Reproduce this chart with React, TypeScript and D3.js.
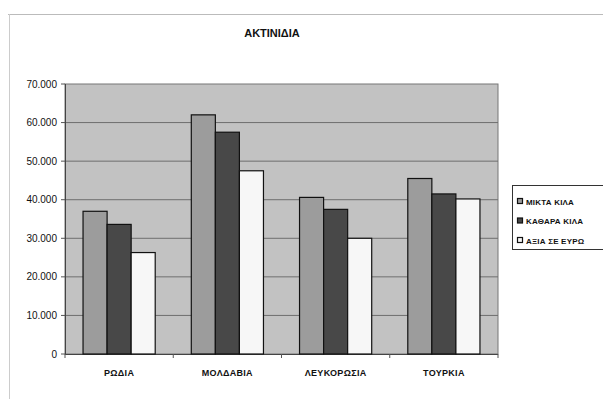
import React from "react";
import * as d3 from "d3";

const categories = ["ΡΩΔΙΑ", "ΜΟΛΔΑΒΙΑ", "ΛΕΥΚΟΡΩΣΙΑ", "ΤΟΥΡΚΙΑ"];
const seriesNames = ["ΜΙΚΤΑ ΚΙΛΑ", "ΚΑΘΑΡΑ ΚΙΛΑ", "ΑΞΙΑ ΣΕ ΕΥΡΩ"];
const miktaKila = [37000, 62000, 40600, 45500];
const katharaKila = [33600, 57500, 37500, 41500];
const axiaEuro = [26300, 47500, 30000, 40200];
const yTicks = [0, 10000, 20000, 30000, 40000, 50000, 60000, 70000];
const tickLabels = ["0", "10.000", "20.000", "30.000", "40.000", "50.000", "60.000", "70.000"];
const title = "ΑΚΤΙΝΙΔΙΑ";

const seriesValues = [miktaKila, katharaKila, axiaEuro];
const colors = ["#9c9c9c", "#484848", "#f7f7f7"];

export default function App() {
  const W = 603, H = 399;
  const left = 65, right = 498, top = 84, bottom = 354;
  const x = d3.scaleBand<string>().domain(categories).range([left, right]).paddingInner(0).paddingOuter(0);
  const y = d3.scaleLinear().domain([0, 70000]).range([bottom, top]);
  const groupW = x.bandwidth() * (2 / 3);
  const inner = d3.scaleBand<number>().domain([0, 1, 2]).range([0, groupW]);
  const font = "'Liberation Sans', Arial, sans-serif";

  return (
    <svg width={W} height={H} style={{ position: "absolute", left: 0, top: 0, background: "#fff" }}>
      <rect x={0} y={0} width={W} height={H} fill="#fff" />
      <line x1={8} y1={14.5} x2={W} y2={14.5} stroke="#bbb" strokeWidth={1} />
      <line x1={9.5} y1={14} x2={9.5} y2={H} stroke="#ccc" strokeWidth={1} />
      <text x={272} y={37} textAnchor="middle" fontFamily={font} fontSize={11} fontWeight="bold" fill="#111">
        {title}
      </text>
      <rect x={left} y={top} width={right - left} height={bottom - top} fill="#c2c2c2" stroke="#777" strokeWidth={1} />
      {yTicks.map((t, i) => (
        <g key={t}>
          {t > 0 && t < 70000 && (
            <line x1={left} x2={right} y1={y(t)} y2={y(t)} stroke="#6e6e6e" strokeWidth={1} />
          )}
          <line x1={left - 4} x2={left} y1={y(t)} y2={y(t)} stroke="#555" />
          <text x={57} y={y(t) + 3.5} textAnchor="end" fontFamily={font} fontSize={10} fill="#111">
            {tickLabels[i]}
          </text>
        </g>
      ))}
      <line x1={left} x2={right} y1={bottom + 0.5} y2={bottom + 0.5} stroke="#444" />
      <line x1={left + 0.5} x2={left + 0.5} y1={top} y2={bottom} stroke="#444" />
      {categories.map((c) => (
        <line key={"t" + c} x1={x(c) as number} x2={x(c) as number} y1={bottom} y2={bottom + 4} stroke="#555" />
      ))}
      <line x1={right} x2={right} y1={bottom} y2={bottom + 4} stroke="#555" />
      {categories.map((c, ci) => {
        const gx = (x(c) as number) + (x.bandwidth() - groupW) / 2;
        return (
          <g key={c}>
            {seriesValues.map((vals, si) => (
              <rect
                key={si}
                x={gx + (inner(si) as number)}
                y={y(vals[ci])}
                width={inner.bandwidth()}
                height={bottom - y(vals[ci])}
                fill={colors[si]}
                stroke="#111"
                strokeWidth={1.2}
              />
            ))}
            <text x={(x(c) as number) + x.bandwidth() / 2} y={376} textAnchor="middle" fontFamily={font} fontSize={9} fontWeight="bold" letterSpacing={0.3} fill="#111">
              {c}
            </text>
          </g>
        );
      })}
      <rect x={512.5} y={185.5} width={100} height={64} fill="#fff" stroke="#333" strokeWidth={1} />
      {seriesNames.map((s, i) => (
        <g key={s}>
          <rect x={517.5} y={198.5 + i * 19.5} width={5} height={5} fill={colors[i]} stroke="#111" strokeWidth={1.2} />
          <text x={526} y={204.5 + i * 19.5} fontFamily={font} fontSize={8} fontWeight="bold" letterSpacing={0.2} fill="#111">
            {s}
          </text>
        </g>
      ))}
    </svg>
  );
}
